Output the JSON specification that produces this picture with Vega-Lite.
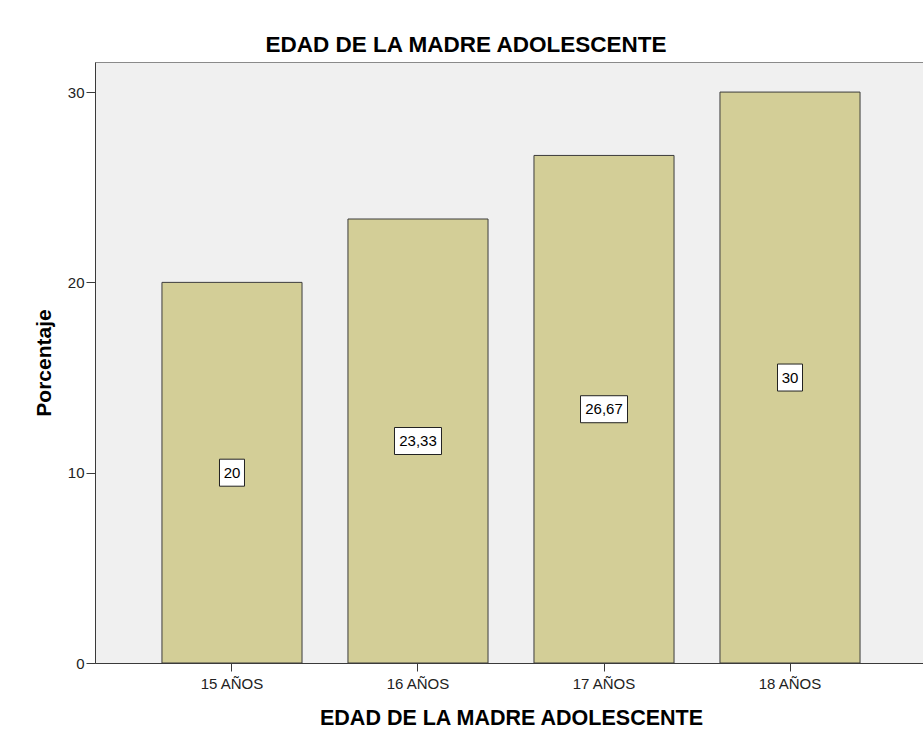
{
  "$schema": "https://vega.github.io/schema/vega-lite/v6.json",
  "width": 832,
  "height": 601,
  "autosize": {"type": "none"},
  "padding": {"left": 95, "top": 62, "right": 0, "bottom": 84},
  "background": "white",
  "title": {
    "text": "EDAD DE LA MADRE ADOLESCENTE",
    "font": "Liberation Sans",
    "fontSize": 22.5,
    "fontWeight": "bold",
    "color": "#000000",
    "anchor": "middle",
    "dx": -45,
    "offset": 6
  },
  "config": {
    "view": {"fill": "#f0f0f0", "stroke": "#8a8a8a", "strokeWidth": 1},
    "font": "Liberation Sans",
    "axis": {
      "labelFont": "Liberation Sans",
      "titleFont": "Liberation Sans",
      "labelColor": "#222222",
      "titleColor": "#000000",
      "labelFontSize": 15,
      "titleFontSize": 21.5,
      "titleFontWeight": "bold",
      "domainColor": "#3a3a3a",
      "tickColor": "#3a3a3a",
      "grid": false
    }
  },
  "resolve": {"scale": {"y": "independent"}},
  "data": {
    "values": [
      {"edad": "15 AÑOS", "pct": 20, "label": "20"},
      {"edad": "16 AÑOS", "pct": 23.33, "label": "23,33"},
      {"edad": "17 AÑOS", "pct": 26.67, "label": "26,67"},
      {"edad": "18 AÑOS", "pct": 30, "label": "30"}
    ]
  },
  "encoding": {
    "x": {
      "field": "edad",
      "type": "nominal",
      "sort": null,
      "title": "EDAD DE LA MADRE ADOLESCENTE",
      "scale": {"paddingInner": 0.247, "paddingOuter": 0.36},
      "axis": {
        "labelAngle": 0,
        "tickSize": 8,
        "labelPadding": 5,
        "titlePadding": 16
      }
    }
  },
  "layer": [
    {
      "mark": {"type": "bar", "fill": "#d3ce97", "stroke": "#3c3c3c", "strokeWidth": 1},
      "encoding": {
        "y": {
          "field": "pct",
          "type": "quantitative",
          "title": "Porcentaje",
          "scale": {"domain": [0, 31.58], "nice": false},
          "axis": {
            "values": [0, 10, 20, 30],
            "tickSize": 9,
            "labelPadding": 2,
            "titlePadding": 13,
            "titleFontSize": 21
          }
        }
      }
    },
    {
      "mark": {"type": "point", "filled": true, "fill": "white", "stroke": "#222222", "strokeWidth": 1, "opacity": 1, "size": 2500},
      "encoding": {
        "y": {"field": "pct", "type": "quantitative", "axis": null, "scale": {"domain": [0, 63.16], "nice": false}},
        "shape": {
          "field": "label",
          "type": "nominal",
          "legend": null,
          "scale": {
            "domain": ["20", "23,33", "26,67", "30"],
            "range": [
              "M-0.5,-0.54H0.5V0.54H-0.5Z",
              "M-0.94,-0.54H0.94V0.54H-0.94Z",
              "M-0.94,-0.54H0.94V0.54H-0.94Z",
              "M-0.5,-0.54H0.5V0.54H-0.5Z"
            ]
          }
        }
      }
    },
    {
      "mark": {"type": "text", "font": "Liberation Sans", "fontSize": 15, "color": "#000000", "baseline": "middle", "align": "center"},
      "encoding": {
        "y": {"field": "pct", "type": "quantitative", "axis": null, "scale": {"domain": [0, 63.16], "nice": false}},
        "text": {"field": "label"}
      }
    }
  ]
}
